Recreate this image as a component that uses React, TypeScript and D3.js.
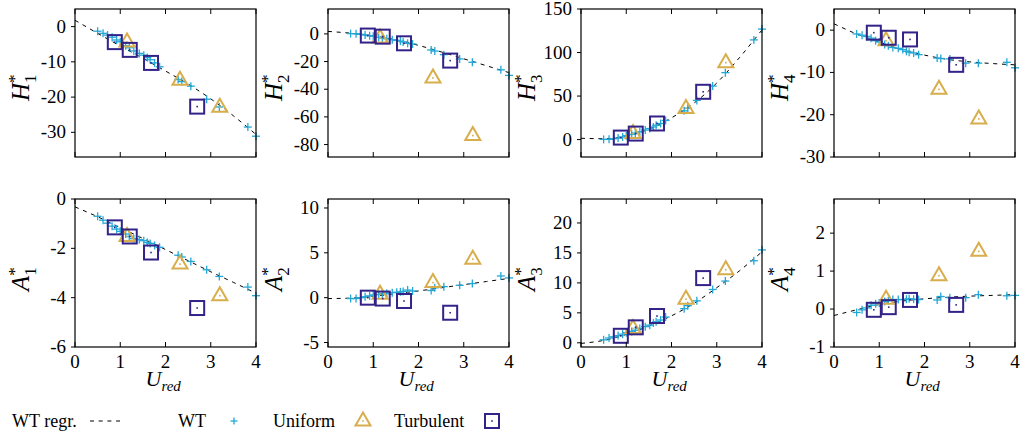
import React from 'react';
import * as d3 from 'd3';

// ---------- data ----------
const WT_X = [0.50, 0.62, 0.72, 0.82, 0.92, 1.00, 1.12, 1.20, 1.30, 1.42, 1.52, 1.60, 1.66, 1.76, 1.87, 2.28, 2.36, 2.56, 2.91, 3.19, 3.82, 4.00];
const UNI_X = [1.15, 2.32, 3.20];
const TURB_X = [0.88, 1.21, 1.68, 2.70];
const REG_X = [0, 0.5, 1, 1.5, 2, 2.5, 3, 3.5, 4];
const X_TICKS = [0, 1, 2, 3, 4];

const H1_WT = [-1.3, -1.9, -2.4, -3.0, -3.8, -4.3, -5.4, -6.0, -6.9, -7.6, -8.1, -8.8, -9.4, -10.3, -11.4, -15.0, -15.6, -16.9, -20.6, -22.8, -28.5, -31.1];
const H1_UNI = [-4.4, -15.2, -22.9];
const H1_TURB = [-4.4, -6.6, -10.3, -22.7];
const H1_REG = [1.8, -1.9, -5.5, -9.0, -12.6, -16.3, -20.5, -25.3, -30.6];

const H2_WT = [0.2, 0.1, -0.3, -0.8, -1.3, -1.7, -2.5, -3.0, -3.5, -4.2, -4.7, -5.2, -5.8, -6.8, -7.3, -11.6, -12.4, -15.0, -18.1, -20.5, -26.0, -30.0];
const H2_UNI = [-2.9, -31.8, -73.5];
const H2_TURB = [-1.2, -2.0, -6.8, -19.3];
const H2_REG = [1.8, 0.5, -1.5, -4.3, -8.3, -13.0, -18.0, -23.0, -28.0];

const H3_WT = [0.2, 0.3, 1.0, 1.8, 3.0, 4.5, 6.0, 7.5, 9.0, 11.0, 12.7, 14.5, 16.5, 18.5, 22.0, 33.0, 36.0, 45.0, 61.5, 76.9, 114.5, 126.9];
const H3_UNI = [6.9, 35.8, 88.4];
const H3_TURB = [2.3, 6.9, 18.5, 54.9];
const H3_REG = [1.5, 1.0, 4.0, 12.0, 25.0, 42.0, 65.0, 94.0, 126.0];

const H4_WT = [-0.9, -1.2, -1.5, -1.9, -2.5, -2.8, -3.4, -3.7, -4.1, -4.3, -4.6, -5.0, -5.2, -5.4, -5.8, -6.6, -6.7, -6.8, -7.8, -7.8, -7.6, -8.9];
const H4_UNI = [-2.5, -14.0, -21.0];
const H4_TURB = [-0.6, -1.8, -2.2, -8.2];
const H4_REG = [1.5, -0.9, -2.8, -4.6, -5.9, -6.9, -7.5, -7.9, -8.2];

const A1_WT = [-0.70, -0.86, -0.98, -1.10, -1.22, -1.31, -1.42, -1.52, -1.61, -1.65, -1.69, -1.76, -1.80, -1.88, -1.96, -2.28, -2.35, -2.53, -2.87, -3.14, -3.57, -3.92];
const A1_UNI = [-1.52, -2.64, -3.92];
const A1_TURB = [-1.15, -1.52, -2.17, -4.42];
const A1_REG = [-0.32, -0.72, -1.16, -1.60, -2.05, -2.50, -2.95, -3.38, -3.82];

const A2_WT = [-0.1, -0.1, 0.0, 0.1, 0.2, 0.3, 0.35, 0.45, 0.5, 0.56, 0.6, 0.65, 0.7, 0.85, 0.74, 0.8, 1.1, 1.23, 1.38, 1.57, 2.42, 2.2];
const A2_UNI = [0.37, 1.68, 4.29];
const A2_TURB = [0.0, -0.1, -0.37, -1.68];
const A2_REG = [-0.1, -0.05, 0.15, 0.45, 0.75, 1.1, 1.45, 1.8, 2.15];

const A3_WT = [0.5, 0.8, 1.0, 1.2, 1.45, 1.7, 1.9, 2.1, 2.4, 2.7, 2.95, 3.3, 3.5, 3.8, 4.3, 5.7, 6.2, 7.0, 8.9, 10.3, 13.7, 15.5];
const A3_UNI = [2.4, 7.27, 12.2];
const A3_TURB = [1.17, 2.58, 4.47, 10.8];
const A3_REG = [-0.1, 0.4, 1.4, 2.8, 4.5, 6.6, 9.2, 12.0, 15.2];

const A4_WT = [-0.09, -0.02, 0.03, 0.1, 0.14, 0.16, 0.2, 0.22, 0.25, 0.25, 0.25, 0.26, 0.27, 0.26, 0.25, 0.24, 0.33, 0.3, 0.3, 0.38, 0.35, 0.36];
const A4_UNI = [0.26, 0.88, 1.52];
const A4_TURB = [-0.02, 0.05, 0.24, 0.11];
const A4_REG = [-0.17, -0.02, 0.12, 0.21, 0.27, 0.31, 0.34, 0.36, 0.38];

const LABEL_LETTERS = ['H', 'H', 'H', 'H', 'A', 'A', 'A', 'A'];
const LABEL_INDEX = ['1', '2', '3', '4', '1', '2', '3', '4'];
const Y_DOMAINS: [number, number][] = [[-37, 5], [-89, 18], [-20, 150], [-30, 5], [-6, 0], [-5.5, 11], [-0.7, 24], [-1, 2.9]];
const Y_TICKS = [[0, -10, -20, -30], [0, -20, -40, -60, -80], [0, 50, 100, 150], [0, -10, -20, -30], [0, -2, -4, -6], [-5, 0, 5, 10], [0, 5, 10, 15, 20], [-1, 0, 1, 2]];
const WT_SERIES = [H1_WT, H2_WT, H3_WT, H4_WT, A1_WT, A2_WT, A3_WT, A4_WT];
const UNI_SERIES = [H1_UNI, H2_UNI, H3_UNI, H4_UNI, A1_UNI, A2_UNI, A3_UNI, A4_UNI];
const TURB_SERIES = [H1_TURB, H2_TURB, H3_TURB, H4_TURB, A1_TURB, A2_TURB, A3_TURB, A4_TURB];
const REG_SERIES = [H1_REG, H2_REG, H3_REG, H4_REG, A1_REG, A2_REG, A3_REG, A4_REG];

const LEGEND = ['WT regr.', 'WT', 'Uniform', 'Turbulent'];

// ---------- style ----------
const C_WT = '#22a7d6';
const C_UNI = '#d8ad4c';
const C_TURB = '#332288';
const FONT = '"Liberation Serif", "Times New Roman", serif';
const W = 1021, H = 438;
const PANEL_LEFTS = [75, 328, 581, 834];
const PANEL_TOPS = [9, 199];
const PW = 181, PH = 148;
const DASH = '4,4.7';

const Cross = ({ x, y, s = 4 }: { x: number; y: number; s?: number }) => (
  <g stroke={C_WT} strokeWidth={1.3}>
    <line x1={x - s} x2={x + s} y1={y} y2={y} />
    <line x1={x} x2={x} y1={y - s} y2={y + s} />
  </g>
);

const Tri = ({ x, y }: { x: number; y: number }) => (
  <g>
    <path d={`M${x},${y - 8.5} L${x + 7.5},${y + 4.5} L${x - 7.5},${y + 4.5} Z`} fill="none" stroke={C_UNI} strokeWidth={2} strokeLinejoin="miter" />
    <rect x={x - 0.8} y={y - 0.8} width={1.6} height={1.6} fill={C_UNI} />
  </g>
);

const Sq = ({ x, y }: { x: number; y: number }) => (
  <g>
    <rect x={x - 7} y={y - 7} width={14} height={14} fill="none" stroke={C_TURB} strokeWidth={2} />
    <rect x={x - 0.8} y={y - 0.8} width={1.6} height={1.6} fill={C_TURB} />
  </g>
);

function Panel({ i }: { i: number }) {
  const row = i < 4 ? 0 : 1;
  const col = i % 4;
  const left = PANEL_LEFTS[col];
  const top = PANEL_TOPS[row];
  const x = d3.scaleLinear().domain([0, 4]).range([left, left + PW]);
  const y = d3.scaleLinear().domain(Y_DOMAINS[i]).range([top + PH, top]);
  const line = d3.line<number>().x((_, k) => x(REG_X[k])).y((v) => y(v)).curve(d3.curveMonotoneX);
  const bottom = top + PH;
  const midY = top + PH / 2;
  const lblX = left - 46;
  return (
    <g>
      <path d={line(REG_SERIES[i]) || ''} fill="none" stroke="#000" strokeWidth={1} strokeDasharray={DASH} />
      {WT_SERIES[i].map((v, k) => <Cross key={'w' + k} x={x(WT_X[k])} y={y(v)} />)}
      {UNI_SERIES[i].map((v, k) => <Tri key={'u' + k} x={x(UNI_X[k])} y={y(v)} />)}
      {TURB_SERIES[i].map((v, k) => <Sq key={'t' + k} x={x(TURB_X[k])} y={y(v)} />)}
      <rect x={left} y={top} width={PW} height={PH} fill="none" stroke="#000" strokeWidth={1.2} />
      {X_TICKS.map((t) => (
        <g key={'xt' + t}>
          <line x1={x(t)} x2={x(t)} y1={top} y2={top + 5} stroke="#000" />
          <line x1={x(t)} x2={x(t)} y1={bottom} y2={bottom - 5} stroke="#000" />
          {row === 1 && (
            <text x={x(t)} y={bottom + 21} textAnchor="middle" fontSize={19} fontFamily={FONT}>{t}</text>
          )}
        </g>
      ))}
      {Y_TICKS[i].map((t) => (
        <g key={'yt' + t}>
          <line x1={left - 4} x2={left} y1={y(t)} y2={y(t)} stroke="#000" />
          <text x={left - 9} y={y(t) + 6} textAnchor="end" fontSize={19} fontFamily={FONT}>{t}</text>
        </g>
      ))}
      <text transform={`translate(${lblX},${midY + 18}) rotate(-90)`} fontFamily={FONT} fontSize={25}>
        <tspan fontStyle="italic">{LABEL_LETTERS[i]}</tspan>
        <tspan fontSize={17} dy={-9}>*</tspan>
        <tspan fontSize={17} dx={-8.5} dy={16}>{LABEL_INDEX[i]}</tspan>
      </text>
      {row === 1 && (
        <text x={left + PW / 2 - 20} y={bottom + 39} fontFamily={FONT} fontSize={22} fontStyle="italic">
          U<tspan fontSize={15} dy={5}>red</tspan>
        </text>
      )}
    </g>
  );
}

export default function App() {
  const ly = 421;
  return (
    <svg width={W} height={H} style={{ position: 'absolute', left: 0, top: 0, background: '#fff' }} fontFamily={FONT}>
      <rect x={0} y={0} width={W} height={H} fill="#fff" />
      {d3.range(8).map((i) => <Panel key={i} i={i} />)}
      <g fontSize={18} fontFamily={FONT}>
        <text x={12} y={ly + 6}>{LEGEND[0]}</text>
        <line x1={90} x2={120} y1={ly} y2={ly} stroke="#000" strokeDasharray={DASH} />
        <text x={178} y={ly + 6}>{LEGEND[1]}</text>
        <Cross x={234} y={ly} s={3.5} />
        <text x={273} y={ly + 6}>{LEGEND[2]}</text>
        <Tri x={363} y={ly} />
        <text x={394} y={ly + 6}>{LEGEND[3]}</text>
        <Sq x={492} y={ly} />
      </g>
    </svg>
  );
}
